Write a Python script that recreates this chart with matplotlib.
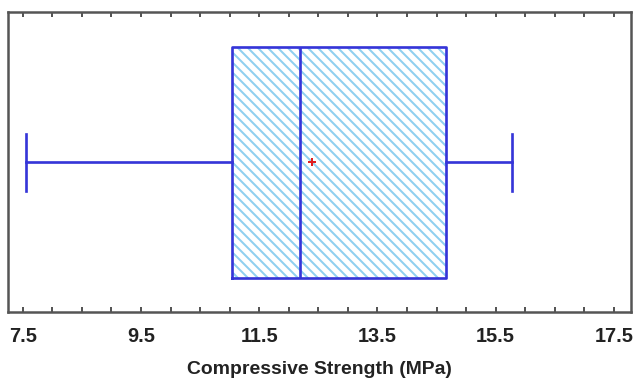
import matplotlib
matplotlib.use("Agg")
import matplotlib.pyplot as plt
from matplotlib.ticker import MultipleLocator, FixedLocator

# Data
whisker_low = 7.55
q1 = 11.04
median = 12.19
q3 = 14.66
whisker_high = 15.77
mean = 12.39
tick_values = [7.5, 9.5, 11.5, 13.5, 15.5, 17.5]
tick_labels = ["7.5", "9.5", "11.5", "13.5", "15.5", "17.5"]
xlabel = "Compressive Strength (MPa)"

DPI = 120
plt.rcParams['font.family'] = ['Liberation Sans', 'DejaVu Sans']
plt.rcParams['hatch.linewidth'] = 1.2

fig = plt.figure(figsize=(638 / DPI, 381 / DPI), dpi=DPI)
ax = fig.add_axes([8 / 638, 1 - 312 / 381, 623 / 638, 300 / 381])

stats = [dict(whislo=whisker_low, q1=q1, med=median, q3=q3, whishi=whisker_high,
              mean=mean, fliers=[])]

edge = "#3535d8"
hatch_col = "#8fd0f0"

# hatched fill
ax.bxp(stats, positions=[0.5], widths=0.77, vert=False, patch_artist=True,
       showcaps=False, showmeans=False,
       boxprops=dict(facecolor="white", edgecolor=hatch_col, hatch="\\\\\\\\", linewidth=0),
       medianprops=dict(linewidth=0), whiskerprops=dict(linewidth=0))
# outlines
ax.bxp(stats, positions=[0.5], widths=0.77, vert=False, patch_artist=False,
       showmeans=True, meanline=False, capwidths=0.19,
       boxprops=dict(color=edge, linewidth=1.6),
       whiskerprops=dict(color=edge, linewidth=1.6),
       capprops=dict(color=edge, linewidth=1.6),
       medianprops=dict(color=edge, linewidth=1.6),
       meanprops=dict(marker="+", markeredgecolor="#e02020", markersize=5, markeredgewidth=1.2))

ax.set_xlim(7.25, 17.79)
ax.set_ylim(0, 1)
ax.xaxis.set_major_locator(FixedLocator(tick_values))
ax.set_xticklabels(tick_labels, fontsize=12, fontweight="bold", color="#222222")
ax.xaxis.set_minor_locator(MultipleLocator(0.5))
ax.tick_params(axis="x", which="both", direction="in", top=True, bottom=True,
               length=3, width=1, color="#333333", pad=9)
ax.set_yticks([])
for s in ax.spines.values():
    s.set_color("#555555")
    s.set_linewidth(1.5)
ax.set_xlabel(xlabel, fontsize=11.6, fontweight="bold", labelpad=9, color="#222222")

fig.savefig("out.png", dpi=DPI)
